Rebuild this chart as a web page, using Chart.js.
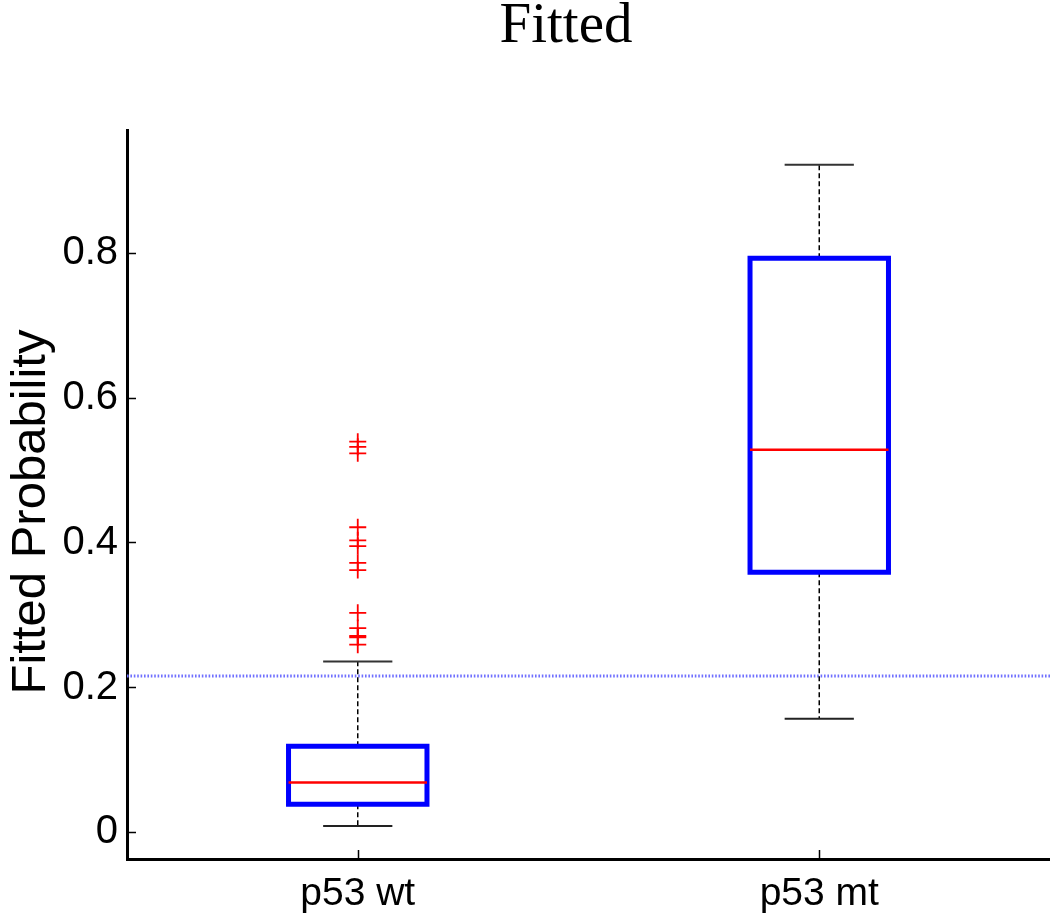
<!DOCTYPE html>
<html>
<head>
<meta charset="utf-8">
<script src="https://cdn.jsdelivr.net/npm/chart.js@4/dist/chart.umd.min.js"></script>
<style>
  html, body { margin: 0; padding: 0; background: #fff; overflow: hidden; }
  #wrap { width: 1050px; height: 919px; position: relative; }
  canvas { display: block; }
</style>
</head>
<body>
<div id="wrap"><canvas id="c" width="1050" height="919"></canvas></div>
<script>
// ---- data ----
const categories = ['p53 wt', 'p53 mt'];
const q1 = [0.039, 0.359];
const median = [0.069, 0.528];
const q3 = [0.119, 0.792];
const whiskerLow = [0.009, 0.157];
const whiskerHigh = [0.236, 0.921];
const outliersWt = [0.539, 0.532, 0.523, 0.421, 0.403, 0.395, 0.372, 0.362, 0.303, 0.282, 0.271, 0.269, 0.259];
const outliersMt = [];
const threshold = 0.216;
const yTicks = [0, 0.2, 0.4, 0.6, 0.8];
const chartTitle = 'Fitted';
const yLabel = 'Fitted Probability';

// ---- build datasets ----
const BOX_HALF = 0.15, CAP_HALF = 0.075;
const datasets = [];

// threshold dotted line
datasets.push({
  data: [{x: 0.5, y: threshold}, {x: 2.5, y: threshold}],
  showLine: true, borderColor: '#7070ff', borderWidth: 3, borderDash: [1.6, 1.8],
  pointRadius: 0, order: 10
});

categories.forEach((c, i) => {
  const p = i + 1;
  // whiskers (dashed)
  datasets.push({
    data: [{x: p, y: q3[i]}, {x: p, y: whiskerHigh[i]}],
    showLine: true, borderColor: '#000', borderWidth: 1.5, borderDash: [5, 3], pointRadius: 0, order: 5
  });
  datasets.push({
    data: [{x: p, y: q1[i]}, {x: p, y: whiskerLow[i]}],
    showLine: true, borderColor: '#000', borderWidth: 1.5, borderDash: [5, 3], pointRadius: 0, order: 5
  });
  // caps
  datasets.push({
    data: [{x: p - CAP_HALF, y: whiskerHigh[i]}, {x: p + CAP_HALF, y: whiskerHigh[i]}],
    showLine: true, borderColor: '#333', borderWidth: 2, pointRadius: 0, order: 4
  });
  datasets.push({
    data: [{x: p - CAP_HALF, y: whiskerLow[i]}, {x: p + CAP_HALF, y: whiskerLow[i]}],
    showLine: true, borderColor: '#222', borderWidth: 2, pointRadius: 0, order: 4
  });
  // box
  datasets.push({
    data: [
      {x: p - BOX_HALF, y: q1[i]}, {x: p + BOX_HALF, y: q1[i]},
      {x: p + BOX_HALF, y: q3[i]}, {x: p - BOX_HALF, y: q3[i]},
      {x: p - BOX_HALF, y: q1[i]}
    ],
    showLine: true, borderColor: '#0000ff', borderWidth: 5,
    borderJoinStyle: 'miter', borderCapStyle: 'square', pointRadius: 0, order: 2
  });
  // median
  datasets.push({
    data: [{x: p - BOX_HALF, y: median[i]}, {x: p + BOX_HALF, y: median[i]}],
    showLine: true, borderColor: '#ff0000', borderWidth: 2.5, pointRadius: 0, order: 1
  });
});

// outliers
[outliersWt, outliersMt].forEach((arr, i) => {
  if (!arr.length) return;
  datasets.push({
    data: arr.map(v => ({x: i + 1, y: v})),
    showLine: false, pointStyle: 'cross', pointRadius: 8.5,
    borderColor: '#ff0000', backgroundColor: '#ff0000', pointBorderWidth: 1.8, order: 0
  });
});

// ---- plugins ----
const extras = {
  id: 'extras',
  afterDraw(chart) {
    const ctx = chart.ctx;
    const xs = chart.scales.x, ys = chart.scales.y, a = chart.chartArea;
    ctx.save();
    // inward tick marks
    ctx.strokeStyle = '#000';
    ctx.lineWidth = 1.5;
    ctx.beginPath();
    ys.ticks.forEach(t => {
      const py = Math.round(ys.getPixelForValue(t.value)) + 0.5;
      ctx.moveTo(a.left, py); ctx.lineTo(a.left + 9, py);
    });
    xs.ticks.forEach(t => {
      const px = Math.round(xs.getPixelForValue(t.value)) + 0.5;
      ctx.moveTo(px, a.bottom); ctx.lineTo(px, a.bottom - 9);
    });
    ctx.stroke();
    // title
    ctx.fillStyle = '#000';
    ctx.font = '57px "Liberation Serif", "Times New Roman", serif';
    ctx.textAlign = 'center';
    ctx.textBaseline = 'alphabetic';
    ctx.fillText(chartTitle, 566, 42);
    // y label
    ctx.translate(45, 512);
    ctx.rotate(-Math.PI / 2);
    ctx.font = '49px "Liberation Sans", Arial, sans-serif';
    ctx.textAlign = 'center';
    ctx.textBaseline = 'alphabetic';
    ctx.fillText(yLabel, 0, 0);
    ctx.restore();
  }
};

new Chart(document.getElementById('c'), {
  type: 'scatter',
  data: { datasets },
  options: {
    responsive: false,
    devicePixelRatio: 1,
    animation: false,
    layout: { autoPadding: false, padding: { top: 130, left: 0, right: 0, bottom: 0 } },
    plugins: { legend: { display: false }, tooltip: { enabled: false }, title: { display: false } },
    scales: {
      x: {
        type: 'linear', min: 0.5, max: 2.5,
        afterFit: s => { s.height = 60; s.paddingLeft = 0; s.paddingRight = 0; },
        afterBuildTicks: s => { s.ticks = categories.map((c, i) => ({value: i + 1})); },
        ticks: {
          callback: v => categories[v - 1],
          color: '#000', padding: 12, maxRotation: 0,
          font: { family: '"Liberation Sans", Arial, sans-serif', size: 39 }
        },
        grid: { drawOnChartArea: false, drawTicks: false },
        border: { display: true, color: '#000', width: 3 }
      },
      y: {
        type: 'linear', min: -0.0366, max: 0.969,
        afterFit: s => { s.width = 127; s.paddingTop = 0; s.paddingBottom = 0; },
        afterBuildTicks: s => { s.ticks = yTicks.map(v => ({value: v})); },
        ticks: {
          callback: v => (v === 0 ? '0' : v.toFixed(1)),
          color: '#000', padding: 9,
          font: { family: '"Liberation Sans", Arial, sans-serif', size: 40 }
        },
        grid: { drawOnChartArea: false, drawTicks: false },
        border: { display: true, color: '#000', width: 3 }
      }
    }
  },
  plugins: [extras]
});
</script>
</body>
</html>
